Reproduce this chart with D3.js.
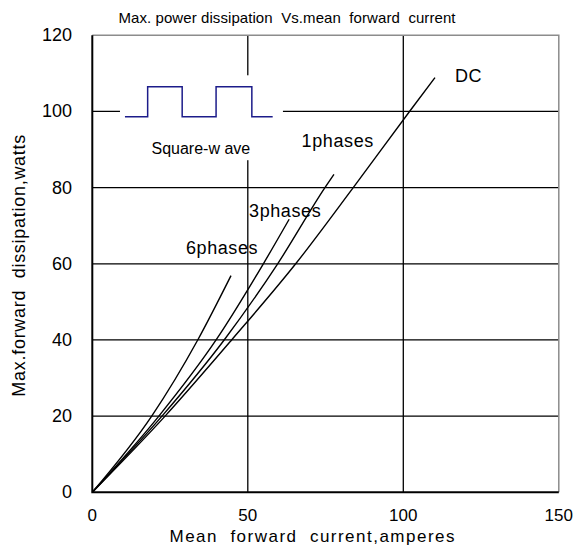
<!DOCTYPE html>
<html>
<head>
<meta charset="utf-8">
<script src="https://cdn.jsdelivr.net/npm/d3@7"></script>
<style>
  body { margin: 0; background: #fff; }
  text { font-family: "Liberation Sans", Arial, sans-serif; fill: #000; }
</style>
</head>
<body>
<div id="chart"></div>
<script>
// Data (amperes, watts)
var xTicks = [0, 50, 100, 150];
var yTicks = [0, 20, 40, 60, 80, 100, 120];
var seriesNames = ["6phases", "3phases", "1phases", "DC"];
var current6 = [0, 19.1, 33.9, 44.6];
var power6   = [0, 20, 40, 56.9];
var current3 = [0, 21.4, 39.8, 55.0, 63.3];
var power3   = [0, 20, 40, 60, 71.7];
var current1 = [0, 22.4, 42.4, 59.6, 74.8, 77.7];
var power1   = [0, 20, 40, 60, 80, 83.5];
var currentDC = [0, 23.4, 44.8, 65.4, 83.9, 102, 110.2];
var powerDC   = [0, 20, 40, 60, 80, 100, 108.9];
// square-wave inset, in data units
var waveX = [10.5, 17.8, 17.8, 28.9, 28.9, 39.8, 39.8, 51.3, 51.3, 58];
var waveY = [98.6, 98.6, 106.5, 106.5, 98.6, 98.6, 106.5, 106.5, 98.6, 98.6];

var width = 576, height = 550;

var svg = d3.select("#chart")
  .append("svg")
    .attr("width", width)
    .attr("height", height);

var x = d3.scaleLinear().domain([0, 150]).range([92.3, 558.8]);
var y = d3.scaleLinear().domain([0, 120]).range([492.3, 35.3]);

// gridlines
svg.append("g").selectAll("line.h")
  .data(yTicks.filter(function (d) { return d > 0 && d < 120; }))
  .enter().append("line")
    .attr("x1", x(0)).attr("x2", x(150))
    .attr("y1", function (d) { return y(d); })
    .attr("y2", function (d) { return y(d); })
    .attr("stroke", "#000").attr("stroke-width", 1.3);
svg.append("g").selectAll("line.v")
  .data(xTicks.filter(function (d) { return d > 0 && d < 150; }))
  .enter().append("line")
    .attr("x1", function (d) { return x(d); })
    .attr("x2", function (d) { return x(d); })
    .attr("y1", y(0)).attr("y2", y(120))
    .attr("stroke", "#000").attr("stroke-width", 1.3);

// top / right frame in grey
svg.append("path")
  .attr("d", "M" + x(0) + "," + y(120) + "H" + x(150) + "V" + y(0))
  .attr("fill", "none").attr("stroke", "#8c8c8c").attr("stroke-width", 1.5);

// white box behind the square-wave inset
svg.append("rect")
  .attr("x", x(8.9)).attr("y", y(109.5))
  .attr("width", x(61.3) - x(8.9)).attr("height", y(87.2) - y(109.5))
  .attr("fill", "#fff");

svg.append("path")
  .datum(d3.range(waveX.length))
  .attr("d", d3.line()
    .x(function (i) { return x(waveX[i]); })
    .y(function (i) { return y(waveY[i]); }))
  .attr("fill", "none").attr("stroke", "#1c1c8a").attr("stroke-width", 1.5);

svg.append("text")
  .attr("x", x(34.9)).attr("y", y(88.8))
  .attr("text-anchor", "middle")
  .style("font-size", "16px")
  .style("white-space", "pre")
  .text("Square-w ave");

// curves
var curves = [
  [current6, power6], [current3, power3], [current1, power1], [currentDC, powerDC]
];
var line = d3.line()
  .x(function (d) { return x(d[0]); })
  .y(function (d) { return y(d[1]); })
  .curve(d3.curveMonotoneX);
curves.forEach(function (c) {
  var pts = c[0].map(function (v, i) { return [v, c[1][i]]; });
  svg.append("path")
    .datum(pts)
    .attr("d", line)
    .attr("fill", "none").attr("stroke", "#000").attr("stroke-width", 1.4);
});

// curve labels
var labelPos = [[30.1, 62.5], [50.4, 72.3], [67.3, 90.7], [116.6, 107.8]];
seriesNames.forEach(function (name, i) {
  svg.append("text")
    .attr("x", x(labelPos[i][0])).attr("y", y(labelPos[i][1]))
    .style("font-size", "18px")
    .style("letter-spacing", "0.6px")
    .text(name);
});

// axes lines (black, heavier)
svg.append("path")
  .attr("d", "M" + x(0) + "," + y(120) + "V" + y(0) + "H" + x(150))
  .attr("fill", "none").attr("stroke", "#000").attr("stroke-width", 2);

// tick labels
svg.append("g").selectAll("text")
  .data(yTicks).enter().append("text")
    .attr("x", 72)
    .attr("y", function (d) { return y(d) + 6; })
    .attr("text-anchor", "end")
    .style("font-size", "18px")
    .text(function (d) { return d; });
svg.append("g").selectAll("text")
  .data(xTicks).enter().append("text")
    .attr("x", function (d) { return x(d); })
    .attr("y", 521)
    .attr("text-anchor", "middle")
    .style("font-size", "17px")
    .text(function (d) { return d; });

// titles
svg.append("text")
  .attr("x", 287).attr("y", 23)
  .attr("text-anchor", "middle")
  .attr("textLength", 337)
  .attr("lengthAdjust", "spacing")
  .style("font-size", "15px")
  .style("white-space", "pre")
  .text("Max. power dissipation  Vs.mean  forward  current");

svg.append("text")
  .attr("x", 312).attr("y", 542)
  .attr("text-anchor", "middle")
  .attr("textLength", 285)
  .attr("lengthAdjust", "spacing")
  .style("font-size", "17px")
  .style("white-space", "pre")
  .text("Mean  forward  current,amperes");

svg.append("text")
  .attr("transform", "translate(25," + y(59.5) + ") rotate(-90)")
  .attr("text-anchor", "middle")
  .attr("textLength", 262)
  .attr("lengthAdjust", "spacing")
  .style("font-size", "18px")
  .style("white-space", "pre")
  .text("Max.forward  dissipation,watts");
</script>
</body>
</html>
